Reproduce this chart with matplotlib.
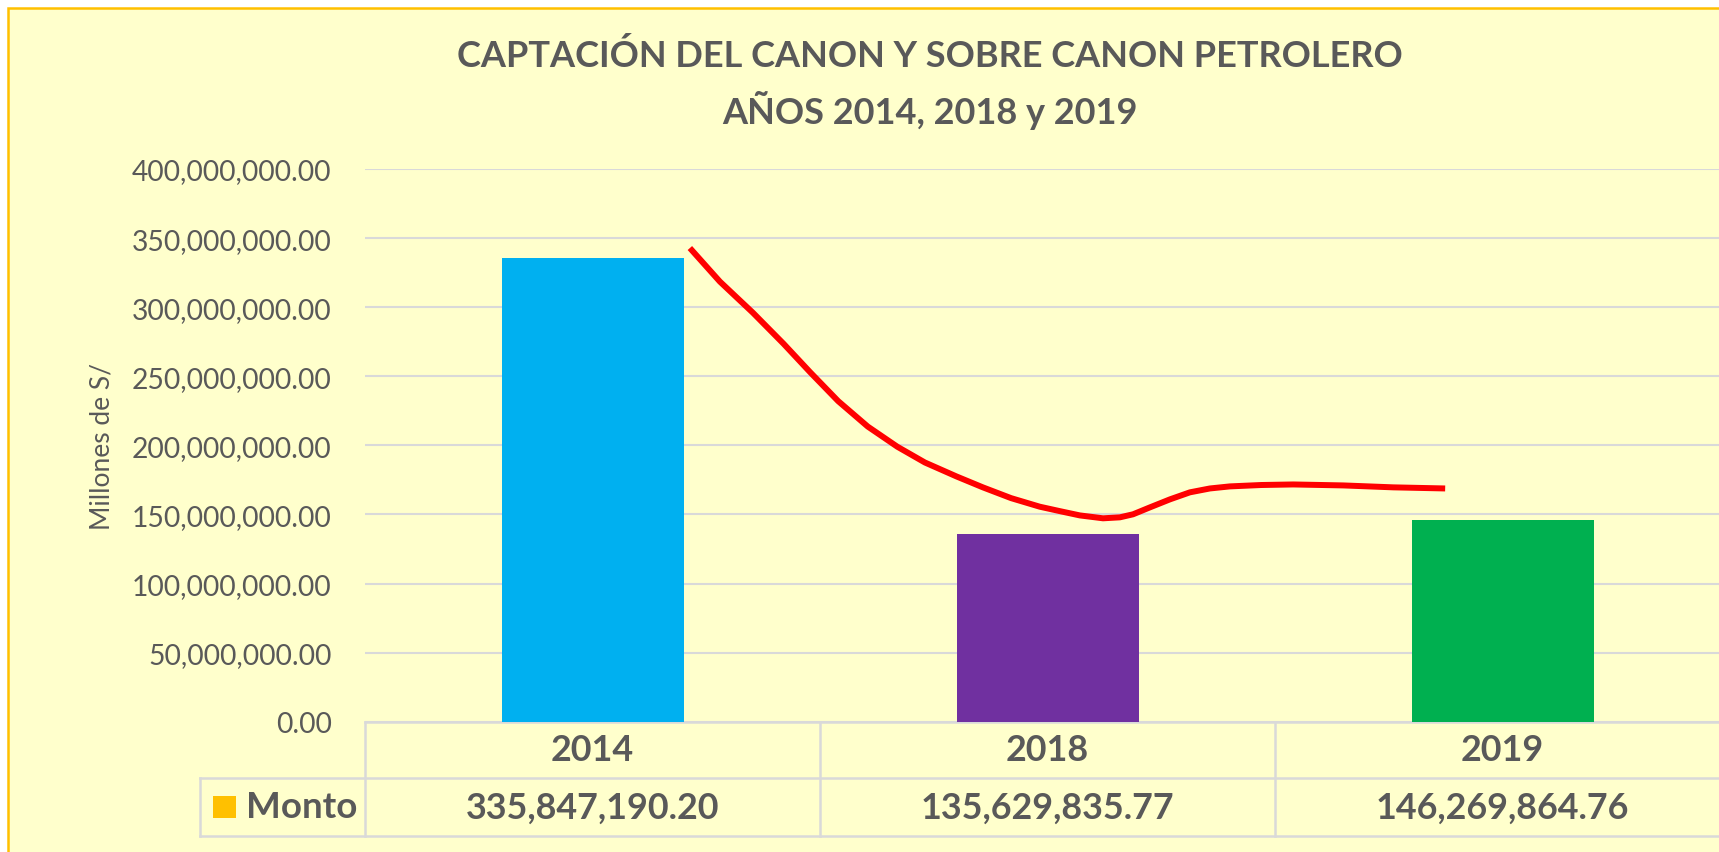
import matplotlib.pyplot as plt
from matplotlib.patches import Rectangle
from matplotlib.lines import Line2D

plt.rcParams['font.family'] = ['Lato', 'DejaVu Sans']

# data
years = ["2014", "2018", "2019"]
montos = [335847190.20, 135629835.77, 146269864.76]
bar_colors = ["#00B0F0", "#7030A0", "#00B050"]
y_ticks = [0, 50e6, 100e6, 150e6, 200e6, 250e6, 300e6, 350e6, 400e6]

# hand-drawn red curve (x in category units)
curve_x = [0.214, 0.28, 0.3525, 0.42, 0.479, 0.54, 0.605, 0.67, 0.7305, 0.80, 0.858,
           0.92, 0.983, 1.027, 1.071, 1.122, 1.159, 1.188, 1.225, 1.269, 1.313, 1.357,
           1.401, 1.47, 1.54, 1.65, 1.76, 1.874]
curve_y = [342.8e6, 318.5e6, 296.0e6, 273.5e6, 252.7e6, 232.0e6, 213.6e6, 199.0e6, 187.6e6,
           177.5e6, 169.6e6, 161.8e6, 155.6e6, 152.4e6, 149.3e6, 147.2e6, 147.9e6, 150.1e6,
           155.1e6, 160.9e6, 166.0e6, 168.8e6, 170.3e6, 171.3e6, 171.7e6, 171.0e6,
           169.6e6, 168.8e6]

TXT = "#595959"
GRID = "#D9D9D9"
BG = "#FFFFCC"

W, H = 1719, 853
fig = plt.figure(figsize=(W / 100, H / 100), dpi=100, facecolor="white")

# chart area background with orange border (right/bottom run off the image)
fig.add_artist(Rectangle((8 / W, -0.05), 1.1, (H - 9) / H + 0.05, transform=fig.transFigure,
                         facecolor=BG, edgecolor="#FFC000", lw=1.8, zorder=-10))

top, bot = 170, 722.7
ax = fig.add_axes([365 / W, (H - bot) / H, 1365 / W, (bot - top) / H])
ax.set_facecolor("none")

x = list(range(len(years)))
ax.bar(x, montos, width=0.4, color=bar_colors, zorder=3)
ax.plot(curve_x, curve_y, color="#FF0000", lw=4.3, solid_capstyle="butt",
        solid_joinstyle="round", zorder=4, clip_on=False)

ax.set_xlim(-0.5, 2.5)
ax.set_ylim(0, 400e6)
ax.set_yticks(y_ticks)
ax.set_yticklabels([f"{v:,.2f}" for v in y_ticks])
ax.tick_params(axis="y", length=0, pad=24, labelsize=20.3, labelcolor=TXT)
ax.set_xticks([])
ax.grid(axis="y", color=GRID, lw=1.5, zorder=0)
for s in ax.spines.values():
    s.set_visible(False)

fig.text(102 / W, 1 - 446 / H, "Millones de S/", rotation=90, ha="center", va="center",
         fontsize=19, color=TXT)

# titles
fig.text(930 / W, 1 - 56 / H, "CAPTACIÓN DEL CANON Y SOBRE CANON PETROLERO",
         ha="center", va="center", fontsize=26, fontweight="bold", color=TXT)
fig.text(930 / W, 1 - 110 / H, "AÑOS 2014, 2018 y 2019",
         ha="center", va="center", fontsize=26, fontweight="bold", color=TXT)

# data table under the axis
tr = ax.get_xaxis_transform()
h = bot - top
r0, r1, r2 = 0.0, -(779.3 - bot) / h, -(836.7 - bot) / h
left_cell = -0.5 - 165 / 455
line_kw = dict(color=GRID, lw=1.8, transform=tr, clip_on=False, zorder=2)
ax.add_line(Line2D([-0.5, 2.5], [r0, r0], **line_kw))
ax.add_line(Line2D([left_cell, 2.5], [r1, r1], **line_kw))
ax.add_line(Line2D([left_cell, 2.5], [r2, r2], **line_kw))
for xv in [-0.5, 0.5, 1.5, 2.5]:
    ax.add_line(Line2D([xv, xv], [r0, r2], **line_kw))
ax.add_line(Line2D([left_cell, left_cell], [r1, r2], **line_kw))

for i, (yr, m) in enumerate(zip(years, montos)):
    ax.text(i, (r0 + r1) / 2, yr, transform=tr, ha="center", va="center",
            fontsize=25.8, fontweight="bold", color=TXT)
    ax.text(i, (r1 + r2) / 2, f"{m:,.2f}", transform=tr, ha="center", va="center",
            fontsize=25.8, fontweight="bold", color=TXT)

ax.add_patch(Rectangle((left_cell + 13 / 455, r1 + (r2 - r1) * 0.3), 23 / 455, (r2 - r1) * 0.4,
                       transform=tr, facecolor="#FFC000", edgecolor="none", clip_on=False))
ax.text(left_cell + 46 / 455, (r1 + r2) / 2, "Monto", transform=tr, ha="left", va="center",
        fontsize=26.5, fontweight="bold", color=TXT)

fig.savefig("out.png", dpi=100, facecolor=fig.get_facecolor())
